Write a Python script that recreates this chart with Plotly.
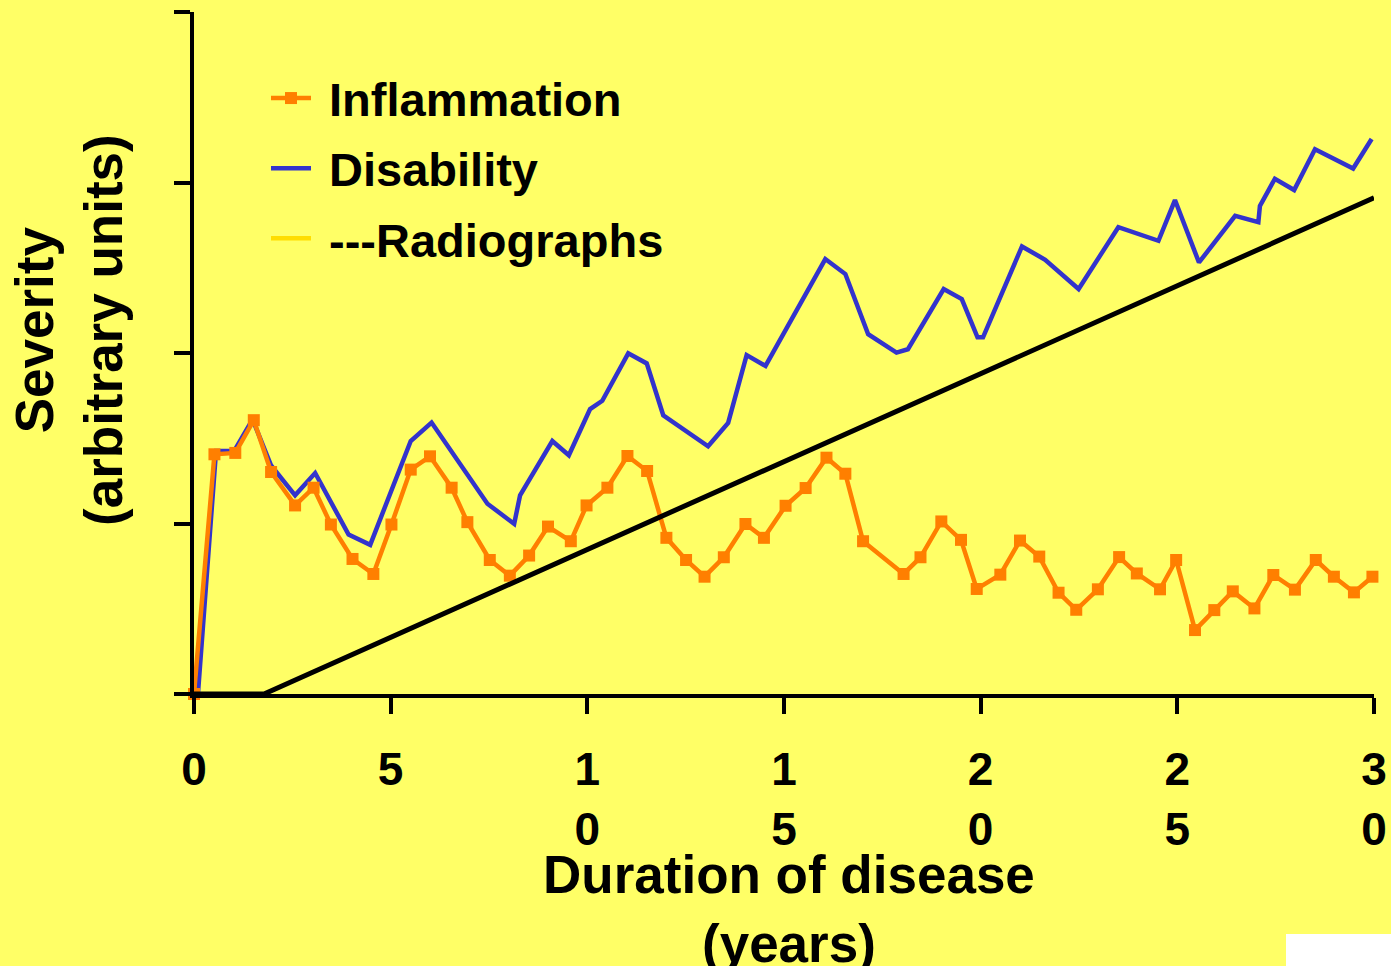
import plotly.graph_objects as go

# ---------------- data ----------------
infl_x = [0, 0.52, 1.05, 1.52, 1.96, 2.57, 3.04, 3.48, 4.03, 4.56,
          5.02, 5.51, 6.0, 6.55, 6.95, 7.52, 8.03, 8.52, 9.0, 9.58,
          9.98, 10.51, 11.02, 11.52, 12.01, 12.51, 12.98, 13.47, 14.02, 14.49,
          15.04, 15.55, 16.08, 16.56, 17.01, 18.04, 18.47, 19.0, 19.5, 19.9,
          20.5, 21.0, 21.49, 21.98, 22.43, 22.98, 23.52, 23.97, 24.56, 24.97,
          25.45, 25.94, 26.41, 26.96, 27.44, 27.99, 28.52, 28.98, 29.49, 29.96]
infl_y = [0, 1.406, 1.414, 1.606, 1.302, 1.106, 1.21, 0.994, 0.792, 0.704,
          0.994, 1.316, 1.394, 1.21, 1.008, 0.786, 0.694, 0.812, 0.982, 0.896,
          1.106, 1.21, 1.396, 1.308, 0.916, 0.786, 0.688, 0.802, 0.997, 0.916,
          1.104, 1.208, 1.386, 1.292, 0.896, 0.704, 0.802, 1.012, 0.904, 0.616,
          0.70, 0.90, 0.806, 0.594, 0.494, 0.614, 0.803, 0.707, 0.614, 0.786,
          0.375, 0.492, 0.602, 0.502, 0.698, 0.612, 0.786, 0.688, 0.596, 0.688]

dis_x = [0.1, 0.56, 1.02, 1.49, 1.96, 2.57, 3.08, 3.93, 4.48, 5.51,
         6.04, 7.46, 8.14, 8.29, 9.11, 9.53, 10.07, 10.38, 11.04, 11.51,
         11.93, 13.07, 13.58, 14.05, 14.53, 16.05, 16.56, 17.14, 17.86, 18.15,
         19.06, 19.52, 19.92, 20.06, 21.05, 21.64, 22.49, 23.5, 24.52, 24.94,
         25.55, 26.47, 27.06, 27.1, 27.48, 27.97, 28.5, 29.47, 29.94]
dis_y = [0, 1.425, 1.425, 1.61, 1.34, 1.165, 1.296, 0.935, 0.875, 1.484,
         1.592, 1.116, 0.998, 1.165, 1.484, 1.4, 1.671, 1.72, 1.998, 1.939,
         1.635, 1.453, 1.59, 1.988, 1.924, 2.551, 2.463, 2.11, 2.002, 2.022,
         2.375, 2.316, 2.092, 2.092, 2.625, 2.547, 2.375, 2.738, 2.658, 2.897,
         2.531, 2.804, 2.768, 2.863, 3.022, 2.956, 3.195, 3.082, 3.255]

rad_x = [0, 1.78, 30]
rad_y = [0, 0, 2.91]

x_tickvals = [0, 5, 10, 15, 20, 25, 30]
x_ticktext = ["0", "5", "1<br>0", "1<br>5", "2<br>0", "2<br>5", "3<br>0"]
y_tickvals = [0, 1, 2, 3, 4]

names = ["Inflammation", "Disability", "---Radiographs"]
x_title = "Duration of disease<br>(years)"
y_title = "Severity<br>(arbitrary units)"

# ---------------- styling ----------------
BG = "#FFFF66"
ORANGE = "#FF7F00"
BLUE = "#3333CC"
LEG_YELLOW = "#FFDD00"
FONT = "Liberation Sans, Arial, sans-serif"

W, H = 1391, 966
L, R, T, B = 194, 17, 12, 272
PW, PH = W - L - R, H - T - B

fig = go.Figure()

fig.add_trace(go.Scatter(
    x=dis_x, y=dis_y, mode="lines", name=names[1],
    line=dict(color=BLUE, width=4.5), legendgroup="b", legendrank=2,
    cliponaxis=False))
fig.add_trace(go.Scatter(
    x=infl_x, y=infl_y, mode="lines+markers", name=names[0],
    line=dict(color=ORANGE, width=4.5),
    marker=dict(symbol="square", size=12, color=ORANGE),
    legendgroup="a", legendrank=1, cliponaxis=False))
fig.add_trace(go.Scatter(
    x=rad_x, y=rad_y, mode="lines", name=names[2],
    line=dict(color="black", width=5), showlegend=False, cliponaxis=False))
# legend-only entry (yellow swatch as in the original)
fig.add_trace(go.Scatter(
    x=[None], y=[None], mode="lines", name=names[2],
    line=dict(color=LEG_YELLOW, width=4.5), legendgroup="c", legendrank=3))

# legend labels get a small leading gap like the original
for tr in fig.data:
    if tr.showlegend is not False:
        tr.name = "&nbsp;" + tr.name


def px_x(p):
    return (p - L) / PW


def px_y(p):
    return (H - B - p) / PH


fig.update_layout(
    width=W, height=H, autosize=False,
    margin=dict(l=L, r=R, t=T, b=B, pad=0, autoexpand=False),
    paper_bgcolor=BG, plot_bgcolor=BG,
    font=dict(family=FONT, color="black", size=44, weight="bold"),
    showlegend=True,
    legend=dict(
        x=px_x(266), y=px_y(61), xanchor="left", yanchor="top",
        bgcolor="rgba(0,0,0,0)", borderwidth=0,
        font=dict(family=FONT, size=47, color="black", weight="bold"),
        traceorder="grouped", tracegroupgap=6, itemwidth=40,
    ),
    xaxis=dict(
        range=[0, 30], showgrid=False, zeroline=False, automargin=False,
        showline=True, linecolor="black", linewidth=4,
        ticks="outside", ticklen=16, tickwidth=4, tickcolor="black",
        tickvals=x_tickvals, ticktext=x_ticktext,
        tickfont=dict(family=FONT, size=46, color="black", weight="bold"),
        ticklabelstandoff=16,
    ),
    yaxis=dict(
        range=[0, 4], showgrid=False, zeroline=False, automargin=False,
        showline=True, linecolor="black", linewidth=4,
        ticks="outside", ticklen=16, tickwidth=4, tickcolor="black",
        tickvals=y_tickvals, showticklabels=False,
    ),
    annotations=[
        dict(text=x_title, xref="paper", yref="paper",
             x=px_x(789), y=px_y(843), xanchor="center", yanchor="top",
             showarrow=False,
             font=dict(family=FONT, size=53, color="black", weight="bold")),
        dict(text=y_title, xref="paper", yref="paper", textangle=-90,
             x=px_x(69), y=px_y(330), xanchor="center", yanchor="middle",
             showarrow=False,
             font=dict(family=FONT, size=53, color="black", weight="bold")),
    ],
    shapes=[
        dict(type="rect", xref="paper", yref="paper",
             x0=px_x(1286), x1=px_x(1395), y0=px_y(970), y1=px_y(934),
             fillcolor="white", line=dict(width=0), layer="above"),
    ],
)

fig.write_html(
    "out.html",
    config={"displayModeBar": False},
    post_script="document.body.style.margin='0';"
                "document.body.style.overflow='hidden';"
                "document.body.style.background='" + BG + "';",
)
